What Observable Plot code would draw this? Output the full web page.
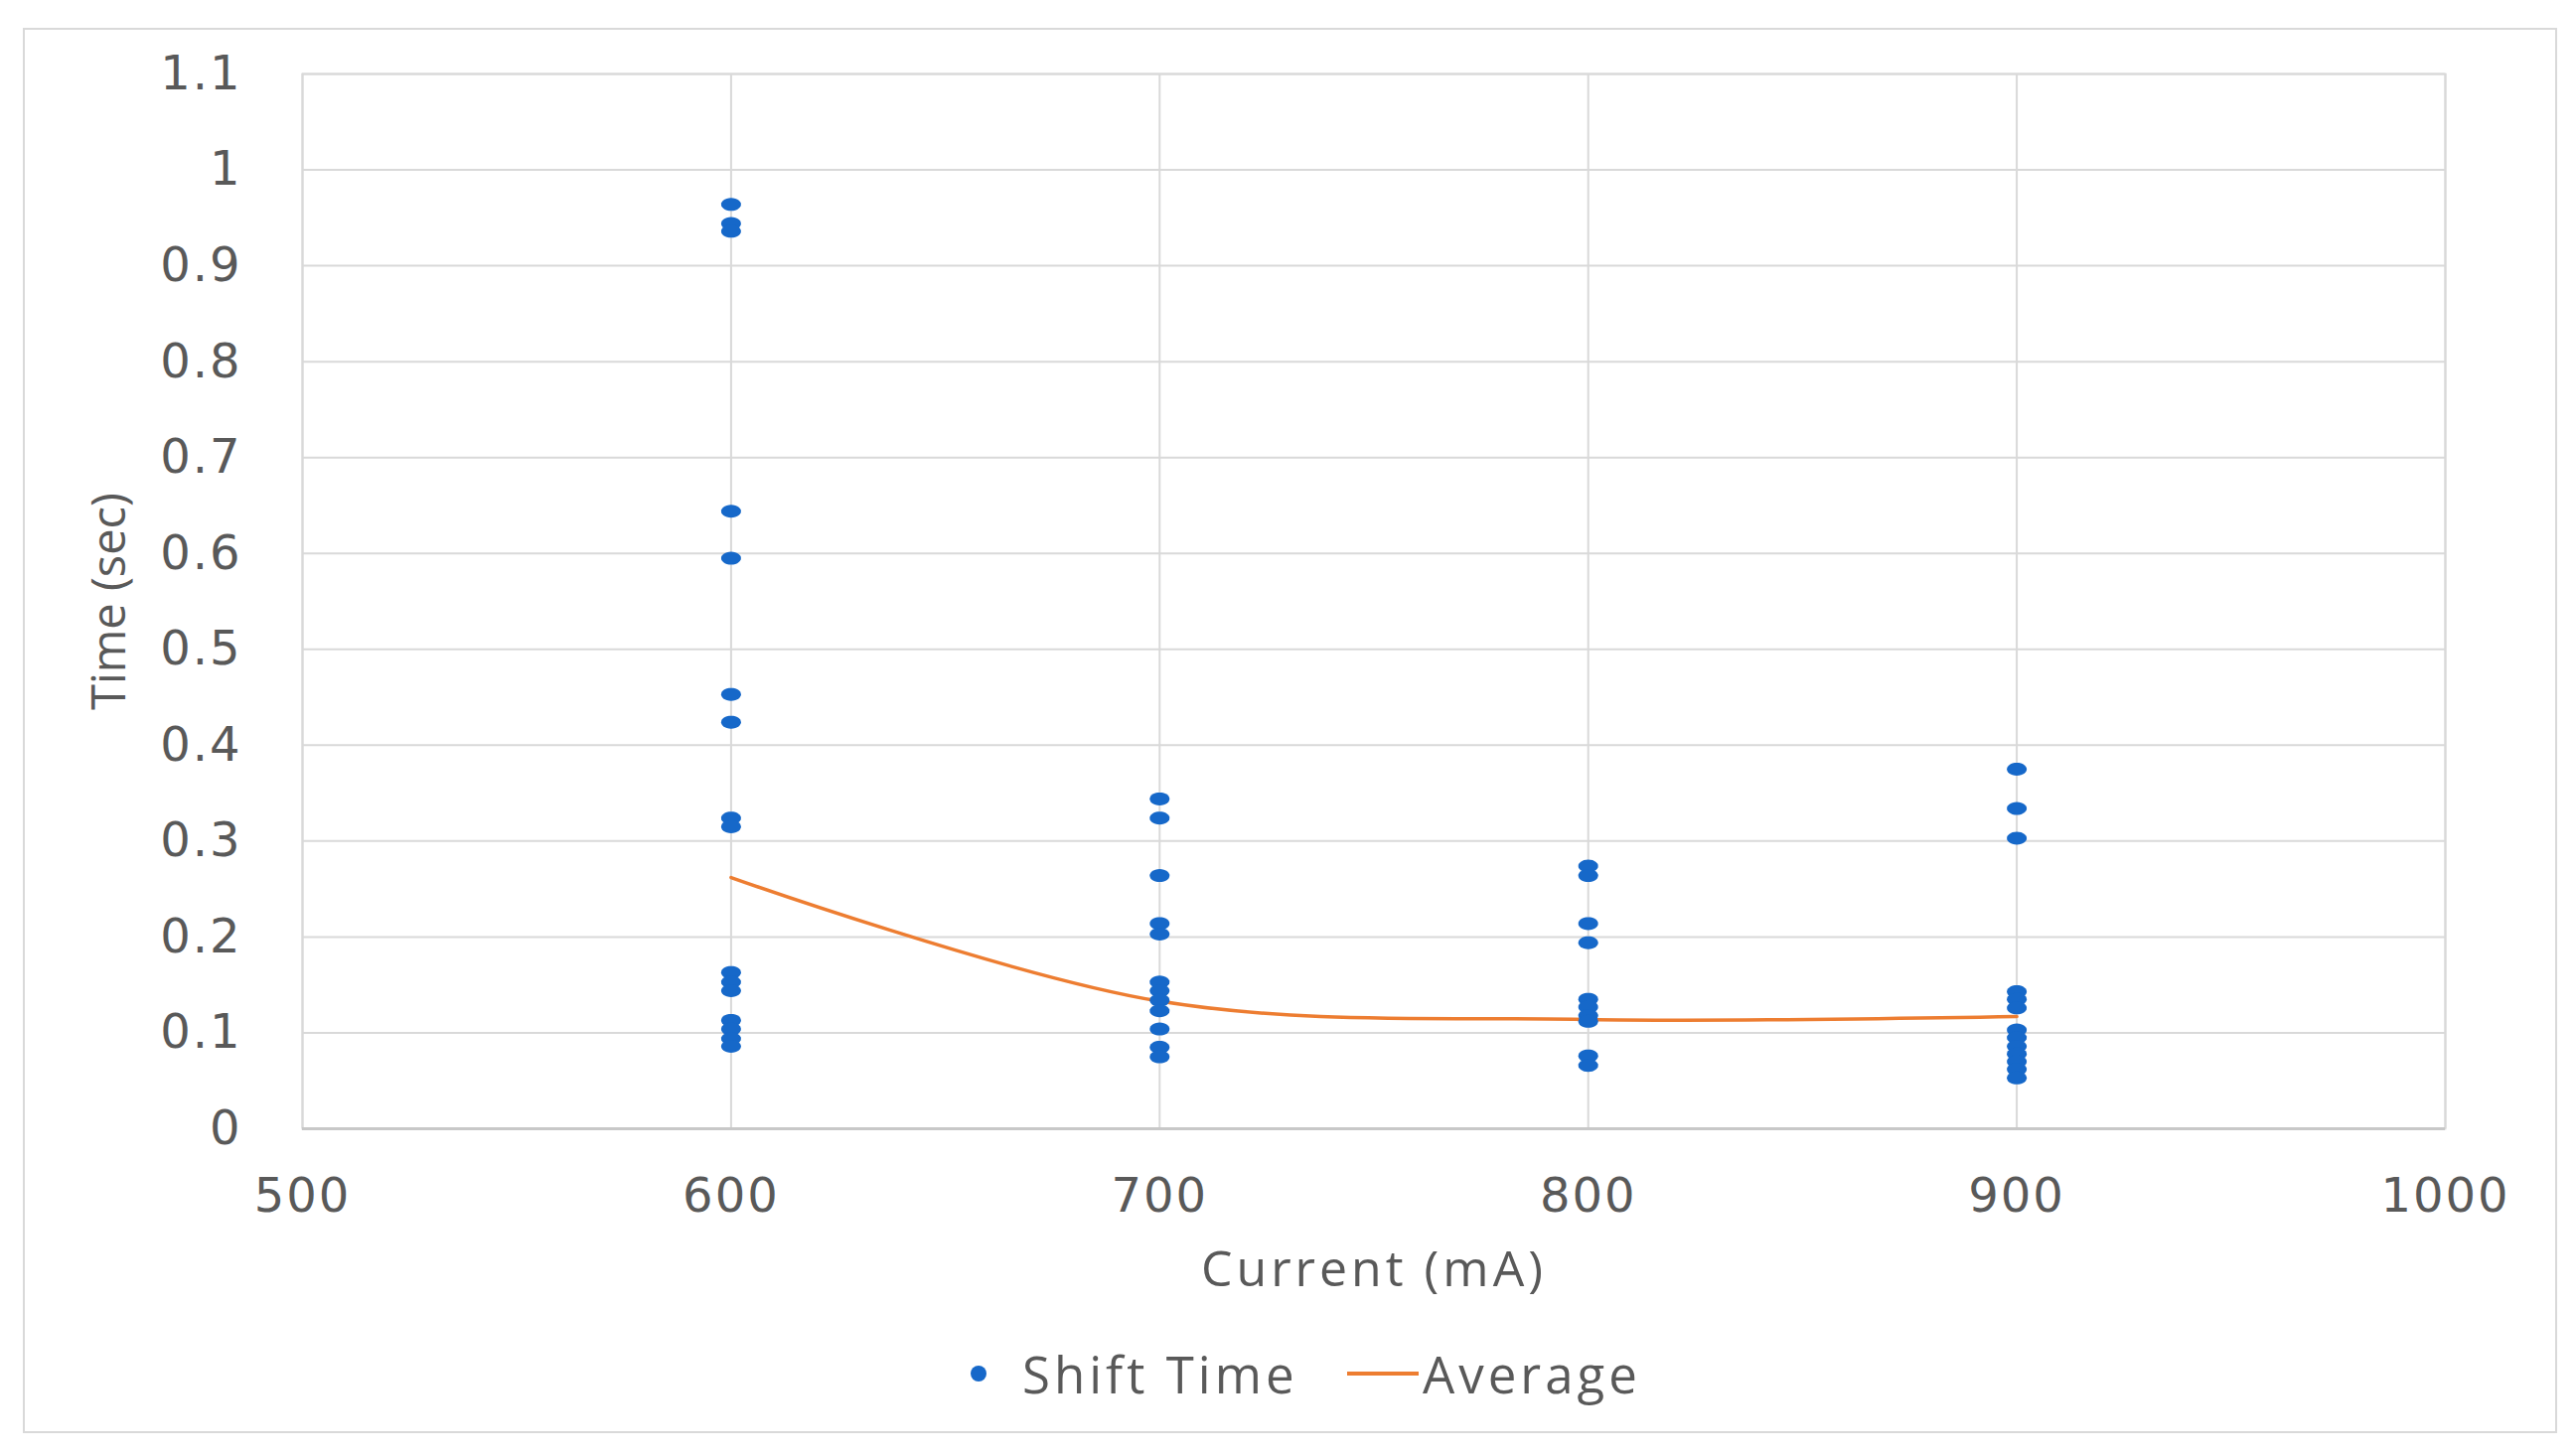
<!DOCTYPE html>
<html><head><meta charset="utf-8">
<script src="https://cdn.jsdelivr.net/npm/d3@7"></script>
<script src="https://cdn.jsdelivr.net/npm/@observablehq/plot@0.6"></script>
<style>
html,body{margin:0;padding:0;background:#fff;}
#wrap{position:relative;width:2593px;height:1466px;overflow:hidden;background:#fff;}
#border{position:absolute;left:23px;top:28px;width:2547px;height:1411px;border:2px solid #d9d9d9;pointer-events:none;}
#chart svg{display:block;}
#legend{position:relative;height:126px;font-family:"Open Sans";font-size:51px;color:#595959;}
#legend .item{position:absolute;top:0;height:126px;display:flex;align-items:center;}
#legend span{letter-spacing:4px;}
</style></head><body>
<div id="wrap"><div id="border"></div><div id="chart"></div><div id="legend"></div></div>
<script>
const xTicks = [500, 600, 700, 800, 900, 1000];
const yTicks = [0, 0.1, 0.2, 0.3, 0.4, 0.5, 0.6, 0.7, 0.8, 0.9, 1.0, 1.1];
const currents = [600, 700, 800, 900];
const shift600 = [0.964, 0.944, 0.936, 0.644, 0.595, 0.453, 0.424, 0.324, 0.315, 0.163, 0.153, 0.144, 0.113, 0.104, 0.094, 0.086];
const shift700 = [0.344, 0.324, 0.264, 0.214, 0.203, 0.153, 0.144, 0.134, 0.123, 0.104, 0.085, 0.075];
const shift800 = [0.274, 0.264, 0.214, 0.194, 0.135, 0.127, 0.118, 0.112, 0.076, 0.066];
const shift900 = [0.375, 0.334, 0.303, 0.143, 0.135, 0.126, 0.103, 0.095, 0.086, 0.078, 0.070, 0.062, 0.053];
const average = [0.262, 0.133, 0.114, 0.117];
const seriesNames = ["Shift Time", "Average"];

const shiftTimes = [shift600, shift700, shift800, shift900];
const points = currents.flatMap((c, i) => shiftTimes[i].map(t => ({current: c, time: t})));
const avgData = currents.map((c, i) => ({current: c, time: average[i]}));

const blue = "#1668c9";
const orange = "#ed7d31";
const textColor = "#595959";

const ellipse = {
  draw(ctx) {
    const rx = 10, ry = 6.5, n = 28;
    for (let k = 0; k < n; k++) {
      const a = 2 * Math.PI * k / n;
      const px = rx * Math.cos(a), py = ry * Math.sin(a);
      if (k) ctx.lineTo(px, py); else ctx.moveTo(px, py);
    }
    ctx.closePath();
  }
};

const chart = Plot.plot({
  width: 2593,
  height: 1320,
  marginLeft: 304,
  marginRight: 132,
  marginTop: 74,
  marginBottom: 184,
  x: {domain: [500, 1000]},
  y: {domain: [0, 1.1]},
  style: {fontFamily: "DejaVu Sans", fontSize: "46px", color: textColor, background: "transparent"},
  marks: [
    Plot.gridX(xTicks, {stroke: "#d9d9d9", strokeOpacity: 1, strokeWidth: 2}),
    Plot.gridY(yTicks, {stroke: "#d9d9d9", strokeOpacity: 1, strokeWidth: 2}),
    Plot.frame({stroke: "#d9d9d9", strokeWidth: 2}),
    Plot.ruleY([0], {stroke: "#c8c8c8", strokeWidth: 3}),
    Plot.axisX(xTicks, {tickSize: 0, tickPadding: 49, label: null, fontSize: 48, fill: textColor, tickFormat: d => String(d)}),
    Plot.axisY(yTicks, {tickSize: 0, tickPadding: 61, label: null, fontSize: 48, fill: textColor, tickFormat: d => String(+d.toFixed(1))}),
    Plot.line(avgData, {x: "current", y: "time", stroke: orange, strokeWidth: 3.5, curve: "catmull-rom"}),
    Plot.dot(points, {x: "current", y: "time", symbol: ellipse, fill: blue, stroke: null}),
    Plot.text(["Time (sec)"], {frameAnchor: "left", dx: -194, rotate: -90, textAnchor: "middle", fontFamily: "Open Sans", fontSize: 47, fill: textColor}),
    Plot.text(["Current (mA)"], {frameAnchor: "bottom", dy: 158, textAnchor: "middle", fontFamily: "Open Sans", fontSize: 50, fill: textColor})
  ]
});
chart.querySelectorAll('g[aria-label$="tick label"]').forEach(g => g.setAttribute("letter-spacing", "2"));
chart.querySelectorAll('g[aria-label="text"]').forEach(g => {
  if (g.textContent.includes("Current")) g.setAttribute("letter-spacing", "4");
});
document.getElementById("chart").appendChild(chart);

const legend = document.getElementById("legend");
legend.innerHTML =
  `<div class="item" style="left:975px"><svg width="20" height="20" style="margin-right:34px"><ellipse cx="10" cy="10" rx="8" ry="8" fill="${blue}"/></svg><span>${seriesNames[0]}</span></div>` +
  `<div class="item" style="left:1356px"><svg width="72" height="20" style="margin-right:4px"><line x1="0" y1="10" x2="72" y2="10" stroke="${orange}" stroke-width="4"/></svg><span>${seriesNames[1]}</span></div>`;
</script>
</body></html>
